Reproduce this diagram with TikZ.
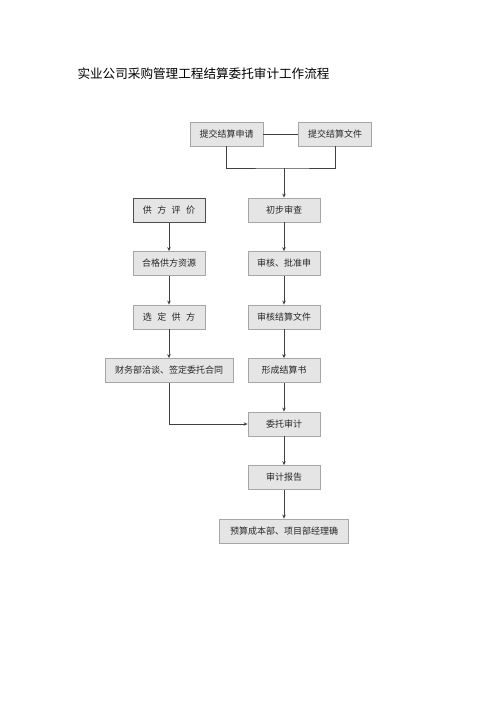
\documentclass[tikz,border=0pt]{standalone}
\usepackage{fontspec}
\newfontfamily\cjk{Noto Sans CJK SC}
\usetikzlibrary{math,arrows.meta}

\begin{document}
\begin{tikzpicture}[x=1pt,y=-1pt,
  box/.style={draw=black!35, fill=black!10, line width=0.8pt,
    minimum width=72pt, minimum height=24pt, inner sep=2pt,
    font=\cjk\fontsize{9}{11}\selectfont, text=black!85},
  arr/.style={draw=black!75, line width=0.8pt, -{Stealth[length=4pt,width=3.5pt]}},
  ln/.style={draw=black!75, line width=0.8pt}]
  \useasboundingbox (0,0) rectangle (500,707);
  % 列的位置和行距
  \tikzmath{
    \L = 169; \R = 284;
    \y = 210; \dy = 53.5;
  }

  % 标题
  \node[anchor=west, font=\cjk\fontsize{12.6}{15}\selectfont] (title) at (74,74)
    {实业公司采购管理工程结算委托审计工作流程};

  % 顶部两个方框
  \node[box, minimum width=73pt] (apply) at (226.5,134) {提交结算申请};
  \node[box, minimum width=73pt] (file) at (335,134) {提交结算文件};
  \coordinate (join) at (\R,168);

  % 右列
  \node[box] (first) at (\R,\y) {初步审查};
  \node[box] (approve) at (\R,\y+\dy) {审核、批准申};
  \node[box] (check) at (\R,\y+2*\dy) {审核结算文件};
  \node[box] (form) at (\R,\y+3*\dy) {形成结算书};
  \node[box] (audit) at (\R,\y+4*\dy) {委托审计};
  \node[box] (report) at (\R,\y+5*\dy) {审计报告};
  \node[box, minimum width=129pt] (confirm) at (\R,\y+6*\dy) {预算成本部、项目部经理确};

  % 左列
  \node[box, draw=black!70, line width=1pt] (eval) at (\L,\y) {供\hspace{.6em}方\hspace{.6em}评\hspace{.6em}价};
  \node[box] (qualified) at (\L,\y+\dy) {合格供方资源};
  \node[box] (select) at (\L,\y+2*\dy) {选\hspace{.6em}定\hspace{.6em}供\hspace{.6em}方};
  \node[box, minimum width=128pt] (contract) at (\L,\y+3*\dy) {财务部洽谈、签定委托合同};

  % 连线
  \draw[ln] (apply) -- (file);
  \draw[ln] (apply.south) |- (join) -| (file.south);
  \draw[arr] (join) -- (first);
  \draw[arr] (first) -- (approve);
  \draw[arr] (approve) -- (check);
  \draw[arr] (check) -- (form);
  \draw[arr] (form) -- (audit);
  \draw[arr] (audit) -- (report);
  \draw[arr] (report) -- (confirm);
  \draw[arr] (eval) -- (qualified);
  \draw[arr] (qualified) -- (select);
  \draw[arr] (select) -- (contract);
  \draw[arr] (contract.south) |- (audit.west);
\end{tikzpicture}
\end{document}
